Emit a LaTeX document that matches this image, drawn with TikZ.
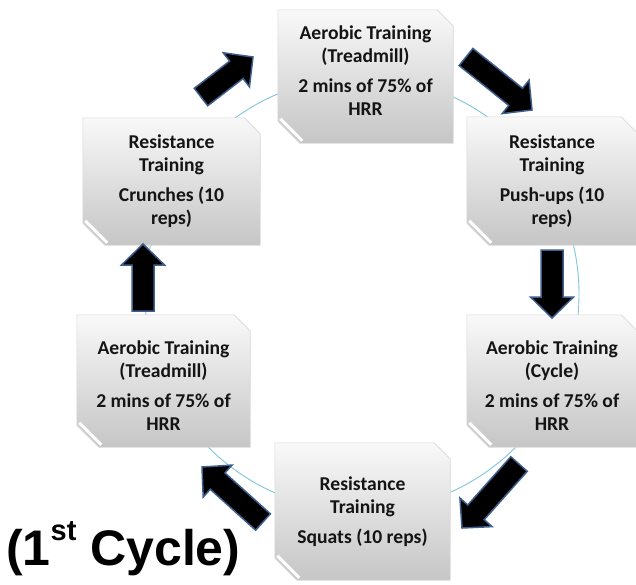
\documentclass[tikz,border=0pt]{standalone}
\usepackage{fontspec}
\setmainfont{Carlito}
\newfontfamily\arialfont{Liberation Sans}
\usetikzlibrary{calc}
\definecolor{ringblue}{HTML}{7FC6DA}
\definecolor{arrowedge}{HTML}{3F5F8E}
\definecolor{txt}{HTML}{141414}
\tikzset{
  boxnode/.style 2 args={minimum width=#1, minimum height=#2, inner sep=0pt, draw=none},
  lbl/.style={align=center, font=\fontsize{19.6}{23}\selectfont\bfseries, text=txt, inner sep=0pt},
  boxfill/.style={top color=gray!5, bottom color=gray!45, draw=gray!30, line width=0.6pt},
  arr/.style={fill=black, draw=arrowedge, line width=1.5pt, line join=miter},
  ring/.style={draw=ringblue, line width=0.9pt},
}
\newcommand\drawbox[1]{%
  \path[boxfill] (#1.north west) -- ($(#1.north east)+(-16,0)$) -- ($(#1.north east)+(0,16)$)
    -- (#1.south east) -- ($(#1.south west)+(22,0)$) -- ($(#1.south west)+(0,-22)$) -- cycle;
  \draw[white, line width=3pt] ($(#1.south west)+(2.5,-24.5)$) -- ($(#1.south west)+(24.5,-2.5)$);
}
\newcommand\blockarrow[2]{%
  \coordinate (h) at ($(#2)!21pt!(#1)$);
  \draw[arr] ($(#1)!11pt!90:(#2)$) -- ($(h)!11pt!90:(#2)$) -- ($(h)!21.5pt!90:(#2)$) -- (#2)
    -- ($(h)!21.5pt!-90:(#2)$) -- ($(h)!11pt!-90:(#2)$) -- ($(#1)!11pt!-90:(#2)$) -- cycle;
}
\begin{document}
\begin{tikzpicture}[x=1pt,y=-1pt]
\fill[white] (0,0) rectangle (636,584);
\useasboundingbox (0,0) rectangle (636,584);
% ring
\coordinate (c) at (362,294);
\draw[ring] (c) circle[radius=217];
% boxes
\node[boxnode={175pt}{133pt}] (top) at (365.5,76.5) {};
\node[boxnode={170pt}{128pt}] (ru) at (552,181) {};
\node[boxnode={170pt}{132pt}] (rl) at (552,381) {};
\node[boxnode={175pt}{137pt}] (bot) at (362.5,511.5) {};
\node[boxnode={173pt}{132pt}] (ll) at (163.5,381) {};
\node[boxnode={177pt}{127pt}] (lu) at (171.5,181.5) {};
\drawbox{top}\drawbox{ru}\drawbox{rl}\drawbox{bot}\drawbox{ll}\drawbox{lu}
% texts
\node[lbl] (topt) at ([yshift=6pt]top.center) {Aerobic Training\\(Treadmill)\\[7pt]2 mins of 75\% of\\HRR};
\node[lbl] (rut) at (ru.center) {Resistance\\Training\\[7pt]Push-ups (10\\reps)};
\node[lbl] (rlt) at ([yshift=-5pt]rl.center) {Aerobic Training\\(Cycle)\\[7pt]2 mins of 75\% of\\HRR};
\node[lbl] (bott) at (bot.center) {Resistance\\Training\\[7pt]Squats (10 reps)};
\node[lbl] (llt) at ([yshift=-5pt]ll.center) {Aerobic Training\\(Treadmill)\\[7pt]2 mins of 75\% of\\HRR};
\node[lbl] (lut) at (lu.center) {Resistance\\Training\\[7pt]Crunches (10\\reps)};
% arrows
\coordinate (a1s) at (201,97);  \coordinate (a1e) at (253,57);
\coordinate (a2s) at (466,57);  \coordinate (a2e) at (532,110);
\coordinate (a3s) at (552,250); \coordinate (a3e) at (552,318);
\coordinate (a4s) at (519,464); \coordinate (a4e) at (462,528);
\coordinate (a5s) at (263,522); \coordinate (a5e) at (202,467);
\coordinate (a6s) at (143,311); \coordinate (a6e) at (143,244);
\blockarrow{a1s}{a1e}
\blockarrow{a2s}{a2e}
\blockarrow{a3s}{a3e}
\blockarrow{a4s}{a4e}
\blockarrow{a5s}{a5e}
\blockarrow{a6s}{a6e}
% caption
\node[anchor=base west, inner sep=0pt, text=black, font=\arialfont\bfseries\fontsize{50}{50}\selectfont] (cyc) at (6,565) {(1\raisebox{25pt}{\fontsize{29}{29}\selectfont st} Cycle)};
\end{tikzpicture}
\end{document}
